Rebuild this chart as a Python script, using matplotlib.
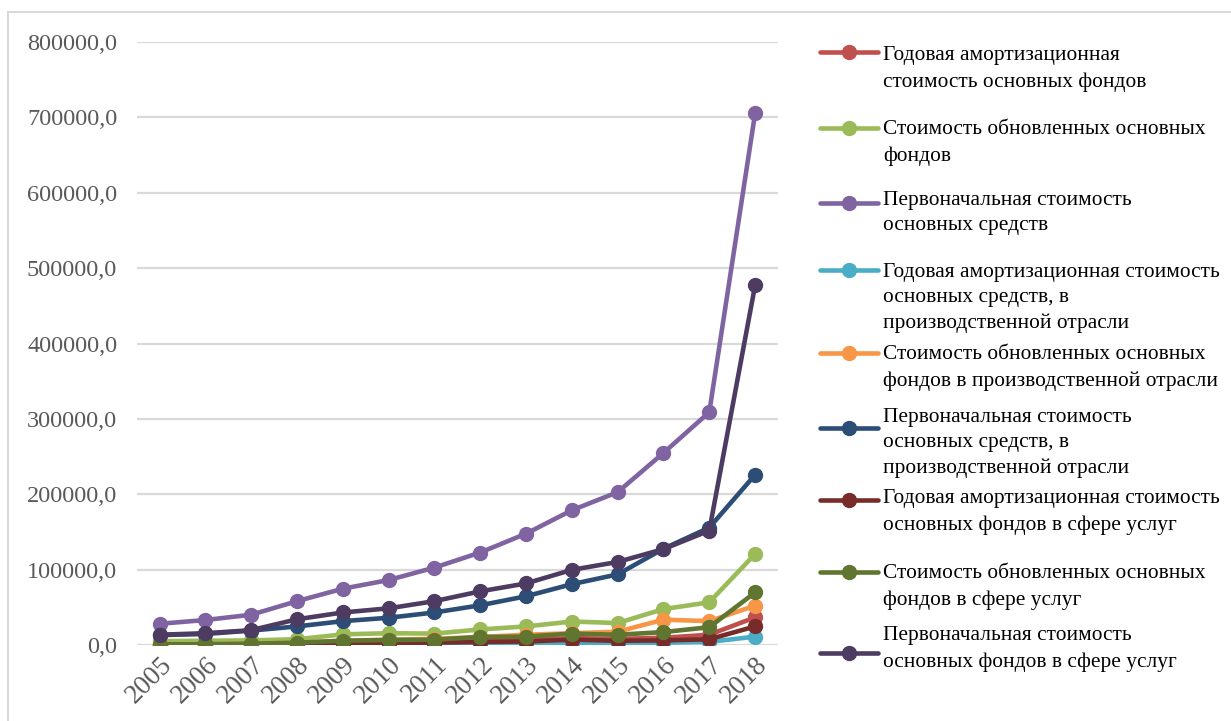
import matplotlib.pyplot as plt
from matplotlib.patches import Rectangle
from matplotlib.lines import Line2D

plt.rcParams['font.family'] = ['Liberation Serif', 'DejaVu Serif']

years = ['2005', '2006', '2007', '2008', '2009', '2010', '2011',
         '2012', '2013', '2014', '2015', '2016', '2017', '2018']

labels = [
    'Годовая амортизационная\nстоимость основных фондов',
    'Стоимость обновленных основных\nфондов',
    'Первоначальная стоимость\nосновных средств',
    'Годовая амортизационная стоимость\nосновных средств, в\nпроизводственной отрасли',
    'Стоимость обновленных основных\nфондов в производственной отрасли',
    'Первоначальная стоимость\nосновных средств, в\nпроизводственной отрасли',
    'Годовая амортизационная стоимость\nосновных фондов в сфере услуг',
    'Стоимость обновленных основных\nфондов в сфере услуг',
    'Первоначальная стоимость\nосновных фондов в сфере услуг',
]

amort_total = [1500, 2000, 2500, 3000, 4000, 4500, 5000, 6000, 7000, 9500, 8500, 10000, 14000, 37000]
renewed_total = [5500, 6000, 6500, 8000, 14500, 16000, 15500, 21000, 25000, 31500, 29500, 48000, 57000, 121000]
initial_total = [28500, 33500, 40500, 58500, 75000, 86500, 103000, 123000, 148000, 179000, 203000, 255000, 309000, 705000]
amort_prod = [500, 600, 800, 1000, 1200, 1500, 1800, 2000, 2500, 3000, 3000, 3500, 4500, 11500]
renewed_prod = [1000, 1500, 2000, 3500, 6000, 7500, 8500, 11000, 14000, 16000, 18000, 34000, 32000, 52500]
initial_prod = [13500, 15000, 19500, 25000, 32000, 36500, 43500, 53000, 65000, 81000, 94000, 128000, 156000, 226000]
amort_serv = [1000, 1200, 1500, 2000, 2500, 3000, 3500, 4500, 5000, 7500, 6000, 6500, 8000, 25000]
renewed_serv = [1000, 1500, 2000, 3500, 6000, 7000, 7500, 11000, 11500, 15500, 14000, 17500, 24000, 70000]
initial_serv = [14000, 16000, 20000, 34500, 43500, 49000, 58500, 71500, 82000, 100000, 110500, 127500, 152000, 477000]

series = [amort_total, renewed_total, initial_total, amort_prod, renewed_prod,
          initial_prod, amort_serv, renewed_serv, initial_serv]
colors = ['#C0504D', '#9BBB59', '#8064A2', '#4BACC6', '#F79646',
          '#2C4D75', '#772C2A', '#5F7530', '#4D3B62']

W, H = 1231, 721
fig = plt.figure(figsize=(W / 100, H / 100), dpi=100)
ax = fig.add_axes([0.111, 0.105, 0.521, 0.837])

x = range(len(years))
for vals, col, lab in zip(series, colors, labels):
    ax.plot(x, vals, color=col, linewidth=3.3, marker='o', markersize=10,
            label=lab, solid_capstyle='round')

ax.set_xlim(-0.5, len(years) - 0.5)
ax.set_ylim(0, 800000)
ax.set_yticks(range(0, 800001, 100000))
ax.set_yticklabels([f'{v},0' for v in range(0, 800001, 100000)])
ax.set_xticks(list(x))
ax.set_xticklabels(years, rotation=45, ha='right', va='top', rotation_mode='anchor')
ax.tick_params(axis='both', length=0, colors='#595959')
ax.tick_params(axis='y', pad=14, labelsize=17.5)
ax.tick_params(axis='x', pad=5, labelsize=19.5)
ax.grid(axis='y', color='#D9D9D9', linewidth=1.6)
ax.set_axisbelow(True)
for s in ax.spines.values():
    s.set_visible(False)

# outer chart border (cut off on the right and bottom)
fig.patches.append(Rectangle((8 / W, -0.1), 1.2, 1 - 12 / H + 0.1,
                             transform=fig.transFigure, fill=False,
                             edgecolor='#D9D9D9', linewidth=1.5))

# legend laid out like the Excel one: handle next to the first text line
handle_y = [52, 128, 203, 270, 353, 428, 500, 572, 653]
text_y = [56, 130, 200, 272, 355, 417, 499, 574, 636]
line_gap = 26
for col, lab, hy, ty in zip(colors, labels, handle_y, text_y):
    fy = 1 - hy / H
    fig.add_artist(Line2D([820 / W, 878 / W], [fy, fy], transform=fig.transFigure,
                          color=col, linewidth=3.3, solid_capstyle='round'))
    fig.add_artist(Line2D([849 / W], [fy], transform=fig.transFigure, color=col,
                          marker='o', markersize=10))
    n = lab.count('\n') + 1
    cy = ty + (n - 1) * line_gap / 2
    fig.text(883 / W, 1 - cy / H, lab, fontsize=15.4, va='center', ha='left',
             linespacing=1.45, color='black')

fig.savefig('out.png', dpi=100)
